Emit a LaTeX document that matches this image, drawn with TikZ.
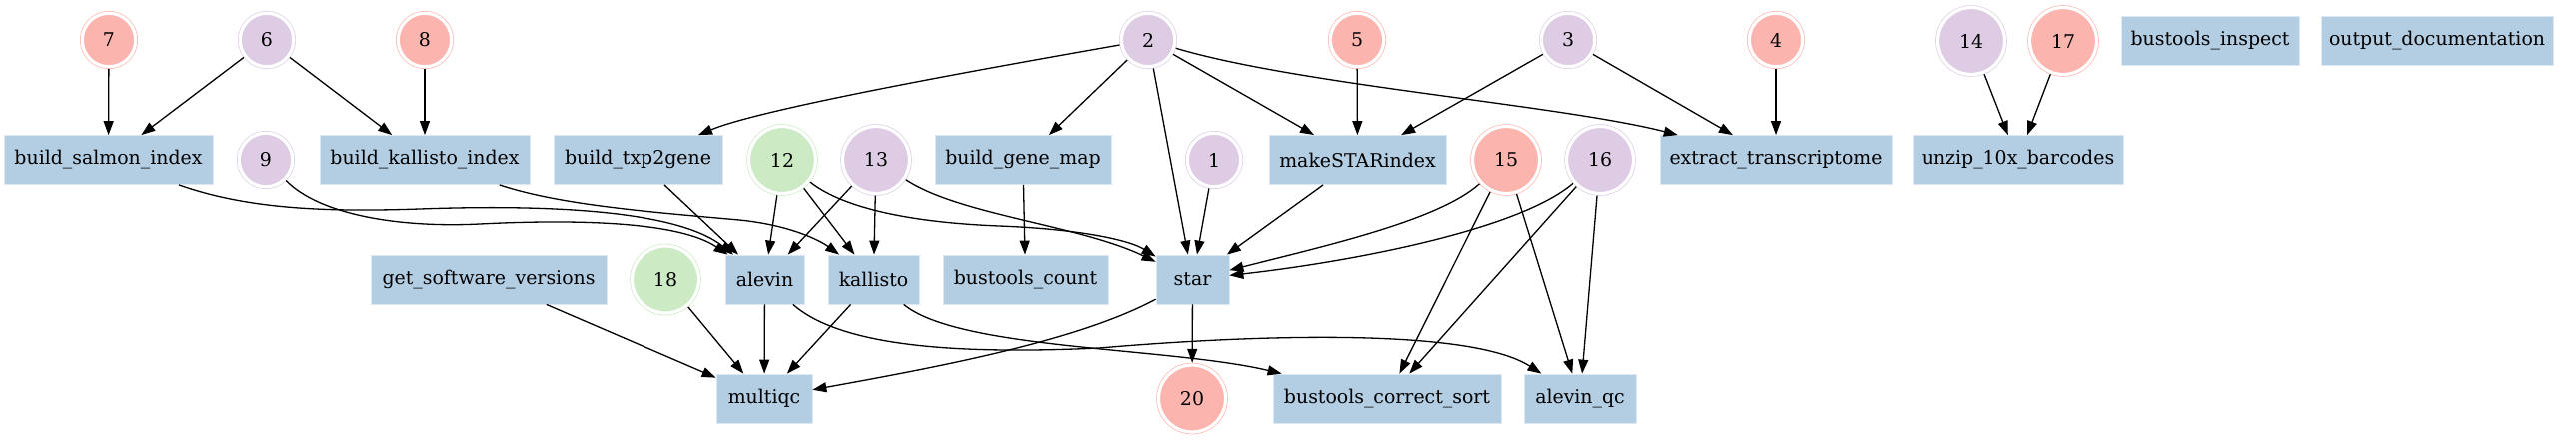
\documentclass[tikz,border=0pt]{standalone}
\usepackage{fontspec}
\setmainfont{DejaVu Serif}
\usetikzlibrary{arrows.meta}
\definecolor{cred}{HTML}{FBB4AE}
\definecolor{cpur}{HTML}{DECBE4}
\definecolor{cgrn}{HTML}{CCEBC5}
\definecolor{cblu}{HTML}{B3CDE3}
\tikzset{
  lbl/.style={font=\fontsize{9.45pt}{11pt}\selectfont, text=black},
  box/.style={lbl, rectangle, fill=cblu, draw=cblu!45!white, line width=0.4pt,
    minimum height=24.5pt, inner sep=0pt, minimum width=#1*0.5pt},
  circ/.style={lbl, circle, fill=#1, draw=#1, double=white, double distance=1.6pt,
    line width=0.35pt, inner sep=0pt, outer sep=1.1pt},
  sm/.style={circ=#1, minimum size=26.75pt},
  lg/.style={circ=#1, minimum size=33.5pt},
  conn/.style={draw=black, line width=0.65pt, -{Triangle[length=7pt,width=5pt]}}
}
\begin{document}
\begin{tikzpicture}[x=0.5pt,y=-0.5pt]
\useasboundingbox (0,0) rectangle (2578,440);
% boxes
\node[box=209] (bsi) at (108.5,160) {build\_salmon\_index};
\node[box=210] (bki) at (425,160) {build\_kallisto\_index};
\node[box=169] (btx) at (638.5,160) {build\_txp2gene};
\node[box=176] (bgm) at (1024,160) {build\_gene\_map};
\node[box=177] (msi) at (1358.5,160) {makeSTARindex};
\node[box=232] (ext) at (1777,160) {extract\_transcriptome};
\node[box=211] (unz) at (2019.5,160) {unzip\_10x\_barcodes};
\node[box=178] (bin) at (2212,40.5) {bustools\_inspect};
\node[box=232] (odo) at (2439,40.5) {output\_documentation};
\node[box=236] (gsv) at (489,279.5) {get\_software\_versions};
\node[box=79] (alv) at (765.5,279.5) {alevin};
\node[box=91] (kal) at (874.5,279.5) {kallisto};
\node[box=165] (bco) at (1026.5,279.5) {bustools\_count};
\node[box=73] (star) at (1193.5,279.5) {star};
\node[box=96] (mqc) at (765,398.5) {multiqc};
\node[box=228] (bcs) at (1388,398.5) {bustools\_correct\_sort};
\node[box=112] (aqc) at (1581,398.5) {alevin\_qc};
% circles
\node[sm=cred] (n7) at (109,40) {7};
\node[sm=cpur] (n6) at (267,40) {6};
\node[sm=cred] (n8) at (425,40) {8};
\node[sm=cpur] (n2) at (1149,40) {2};
\node[sm=cred] (n5) at (1358,40) {5};
\node[sm=cpur] (n3) at (1569,40) {3};
\node[sm=cred] (n4) at (1777,40) {4};
\node[lg=cpur] (n14) at (1973,41) {14};
\node[lg=cred] (n17) at (2065,41) {17};
\node[sm=cpur] (n9) at (266,160) {9};
\node[lg=cgrn] (n12) at (783,160) {12};
\node[lg=cpur] (n13) at (877,160) {13};
\node[sm=cpur] (n1) at (1215,160) {1};
\node[lg=cred] (n15) at (1507,160) {15};
\node[lg=cpur] (n16) at (1601,160) {16};
\node[lg=cgrn] (n18) at (666,279.5) {18};
\node[lg=cred] (n20) at (1193,398.5) {20};
% straight connectors
\foreach \a/\b in {n7/bsi, n6/bsi, n6/bki, n8/bki, n2/bgm, n2/star, n2/msi,
  n5/msi, n3/msi, n3/ext, n4/ext, n14/unz, n17/unz, btx/alv, n12/alv, n12/kal,
  n13/alv, n13/kal, bgm/bco, n1/star, msi/star, n15/bcs, n15/aqc, n16/bcs,
  n16/aqc, gsv/mqc, n18/mqc, alv/mqc, kal/mqc, star/n20}
  \draw[conn] (\a) -- (\b);
% curved connectors
\draw[conn] (n2) .. controls (950,75) and (760,110) .. (btx);
\draw[conn] (n2) .. controls (1300,85) and (1560,105) .. (ext);
\draw[conn] (bsi) .. controls (250,210) and (330,212) .. (420,209)
  .. controls (560,204) and (680,212) .. (alv);
\draw[conn] (n9) .. controls (320,215) and (400,228) .. (480,224)
  .. controls (580,219) and (680,222) .. (alv);
\draw[conn] (bki) .. controls (560,205) and (650,212) .. (740,220)
  .. controls (790,225) and (820,240) .. (kal);
\draw[conn] (n12) .. controls (840,205) and (900,222) .. (1000,226)
  .. controls (1080,229) and (1130,240) .. (star);
\draw[conn] (n13) .. controls (960,215) and (1080,225) .. (star);
\draw[conn] (n15) .. controls (1440,220) and (1330,245) .. (star);
\draw[conn] (n16) .. controls (1520,230) and (1350,262) .. (star);
\draw[conn] (star) .. controls (1080,340) and (950,365) .. (mqc);
\draw[conn] (alv) .. controls (840,345) and (950,355) .. (1100,348)
  .. controls (1250,335) and (1470,327) .. (aqc);
\draw[conn] (kal) .. controls (960,350) and (1170,347) .. (bcs);
\end{tikzpicture}
\end{document}
